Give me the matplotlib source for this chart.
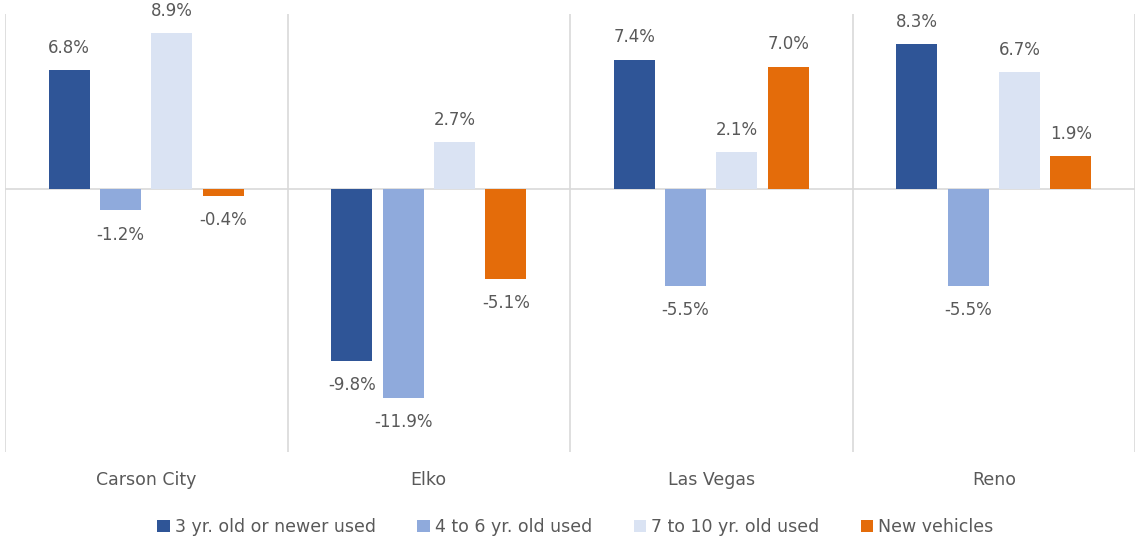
import numpy as np
import matplotlib.pyplot as plt

# data
cities = ["Carson City", "Elko", "Las Vegas", "Reno"]
series = ["3 yr. old or newer used", "4 to 6 yr. old used", "7 to 10 yr. old used", "New vehicles"]
newer_used = [6.8, -9.8, 7.4, 8.3]
mid_used = [-1.2, -11.9, -5.5, -5.5]
older_used = [8.9, 2.7, 2.1, 6.7]
new_vehicles = [-0.4, -5.1, 7.0, 1.9]

colors = ["#2F5597", "#8FAADC", "#DAE3F3", "#E46C0A"]
text_col = "#595959"
grid_col = "#D9D9D9"

plt.rcParams['font.family'] = ['DejaVu Sans']

fig = plt.figure(figsize=(11.35, 5.41), dpi=100)
ax = fig.add_axes([5 / 1135, 1 - 452 / 541, 1130 / 1135, 438 / 541])

x = np.arange(len(cities))
width = 0.145
step = 0.182
all_vals = [newer_used, mid_used, older_used, new_vehicles]

for i, (vals, c, name) in enumerate(zip(all_vals, colors, series)):
    pos = x + (i - 1.5) * step
    bars = ax.bar(pos, vals, width, color=c, label=name, zorder=3)
    for b, v in zip(bars, vals):
        xc = b.get_x() + b.get_width() / 2
        if v >= 0:
            ax.annotate(f"{v:.1f}%", (xc, v), xytext=(0, 9.5), textcoords="offset points",
                        ha="center", va="bottom", fontsize=12, color=text_col)
        else:
            ax.annotate(f"{v:.1f}%", (xc, v), xytext=(0, -11), textcoords="offset points",
                        ha="center", va="top", fontsize=12, color=text_col)

ax.set_xlim(-0.5, len(cities) - 0.5)
ax.set_ylim(-15, 10)
ax.axhline(0, color=grid_col, lw=1.2, zorder=2)
for b in np.arange(len(cities) + 1) - 0.5:
    ax.axvline(b, color=grid_col, lw=1.2, zorder=1)

for s in ax.spines.values():
    s.set_visible(False)
ax.set_yticks([])
ax.set_xticks(x)
ax.set_xticklabels(cities, fontsize=12.5, color=text_col)
ax.tick_params(axis='x', length=0, pad=14)

leg = fig.legend(loc="center", bbox_to_anchor=(0.507, 1 - 527 / 541), ncol=4,
                 frameon=False, fontsize=12.5, handlelength=0.7, handleheight=0.7,
                 handletextpad=0.3, columnspacing=2.4)
for t in leg.get_texts():
    t.set_color(text_col)

fig.savefig("out.png", dpi=100)
